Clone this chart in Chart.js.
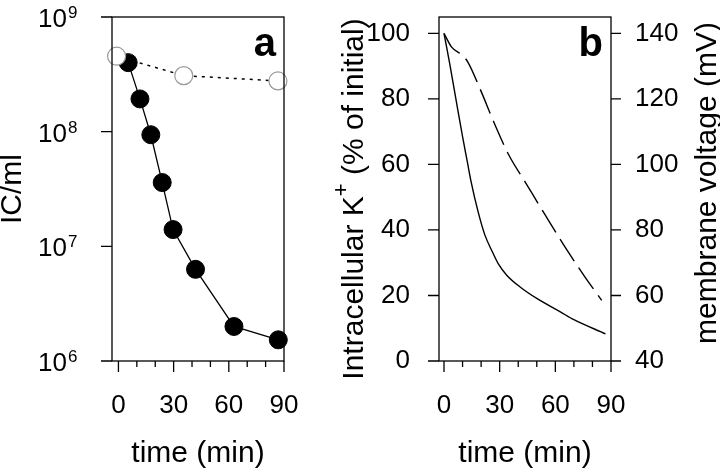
<!DOCTYPE html>
<html>
<head>
<meta charset="utf-8">
<script src="https://cdn.jsdelivr.net/npm/chart.js@4.4.0/dist/chart.umd.min.js"></script>
<style>
  html, body { margin: 0; padding: 0; background: #fff; }
  #wrap { position: relative; width: 720px; height: 473px; overflow: hidden; }
  #chartA { position: absolute; left: 0; top: 0; }
  #chartB { position: absolute; left: 300px; top: 0; }
</style>
</head>
<body>
<div id="wrap">
  <canvas id="chartA" width="300" height="473"></canvas>
  <canvas id="chartB" width="420" height="473"></canvas>
</div>
<script>
// panel a - IC/ml over time
const timeTreated = [5.3, 11.7, 17.6, 23.8, 29.7, 41.9, 62.8, 86.9];
const icTreated = [4.0e8, 1.93e8, 9.4e7, 3.6e7, 1.4e7, 6.3e6, 2.0e6, 1.53e6];
const timeControl = [-1, 35.5, 86.7];
const icControl = [4.55e8, 3.08e8, 2.77e8];
const logTicks = [1e6, 1e7, 1e8, 1e9];
const logExponents = ["6", "7", "8", "9"];

// panel b - K+ and membrane voltage
const timeK = [0, 3, 6.7, 10, 12.5, 14.5, 18.4, 22, 26.5, 29.2, 33.8, 41, 50, 62.7, 70, 87];
const kPercent = [100, 91, 79, 68.5, 61, 55, 45.5, 38.5, 32.8, 29.7, 26.2, 22.6, 19.1, 15, 12.6, 8.3];
const timeV = [0, 4, 10.3, 13, 20, 27, 35, 44, 54.6, 65, 76, 85];
const voltage = [140, 135.9, 133.1, 131.1, 122.3, 112.7, 102.8, 94.4, 84.5, 75, 65.6, 58.5];
const timeTicks = [0, 30, 60, 90];

const FONT = "'Liberation Sans', Arial, Helvetica, sans-serif";
Chart.defaults.font.family = FONT;
Chart.defaults.color = "#000";

function pts(xs, ys) {
  return xs.map((x, i) => ({x: x, y: ys[i]}));
}

// fixed axis sizes, and no extra label padding round the chart area
function fixSize(w, h) {
  return s => {
    if (w != null) s.width = w;
    if (h != null) s.height = h;
    s.paddingTop = s.paddingBottom = s.paddingLeft = s.paddingRight = 0;
  };
}

// rotated text made of pieces: [text, size, raise]
function drawRotated(ctx, parts, x, y) {
  ctx.save();
  ctx.translate(x, y);
  ctx.rotate(-Math.PI / 2);
  ctx.textAlign = "left";
  ctx.textBaseline = "alphabetic";
  let total = 0;
  parts.forEach(p => { ctx.font = p[1] + "px " + FONT; total += ctx.measureText(p[0]).width; });
  let cx = -total / 2;
  parts.forEach(p => {
    ctx.font = p[1] + "px " + FONT;
    ctx.fillText(p[0], cx, 10.5 - p[2]);
    cx += ctx.measureText(p[0]).width;
  });
  ctx.restore();
}

/* frame, tick marks, panel letter and extra titles */
function framePlugin(letter, extra) {
  return {
    id: "frame_" + letter,
    afterDraw(chart) {
      const ctx = chart.ctx;
      const a = chart.chartArea;
      ctx.save();
      ctx.strokeStyle = "#000";
      ctx.lineWidth = 1.3;
      ctx.strokeRect(a.left, a.top, a.right - a.left, a.bottom - a.top);

      ctx.beginPath();
      // bottom ticks, longer at the labelled ones
      const xs = chart.scales.x;
      xs.ticks.forEach(t => {
        const px = xs.getPixelForValue(t.value);
        const len = timeTicks.includes(t.value) ? 11 : 6;
        ctx.moveTo(px, a.bottom);
        ctx.lineTo(px, a.bottom + len);
      });
      // left ticks
      const ys = chart.scales.y;
      ys.ticks.forEach(t => {
        const py = ys.getPixelForValue(t.value);
        ctx.moveTo(a.left, py);
        ctx.lineTo(a.left - 11, py);
      });
      // right ticks
      if (chart.scales.y2) {
        const y2 = chart.scales.y2;
        y2.ticks.forEach(t => {
          const py = y2.getPixelForValue(t.value);
          ctx.moveTo(a.right, py);
          ctx.lineTo(a.right + 10, py);
        });
      }
      ctx.stroke();

      ctx.fillStyle = "#000";
      ctx.font = "bold 40px " + FONT;
      ctx.textAlign = "right";
      ctx.textBaseline = "alphabetic";
      ctx.fillText(letter, a.right - 8, a.top + 39);

      if (extra) extra(chart, ctx, a);
      ctx.restore();
    }
  };
}

const xAxisBase = (min) => ({
  type: "linear",
  min: min,
  max: 90,
  grid: {display: false, drawTicks: false},
  border: {display: false},
  ticks: {
    stepSize: 10,
    includeBounds: false,
    autoSkip: false,
    maxRotation: 0,
    padding: 29,
    font: {size: 26},
    callback: v => timeTicks.includes(v) ? String(v) : ""
  },
  title: {
    display: true,
    text: "time (min)",
    font: {size: 30, lineHeight: 0.8},
    padding: {top: 0, bottom: 7}
  },
  afterFit: fixSize(null, 112)
});

// powers of ten on the log axis: "10" with a raised exponent
function drawPowerLabels(chart, ctx, a) {
  const ys = chart.scales.y;
  ctx.fillStyle = "#000";
  ctx.textBaseline = "alphabetic";
  ys.ticks.forEach((t, i) => {
    const py = ys.getPixelForValue(t.value);
    ctx.font = "26px " + FONT;
    ctx.textAlign = "right";
    ctx.fillText("10", a.left - 45, py + 10);
    ctx.font = "17px " + FONT;
    ctx.textAlign = "left";
    ctx.fillText(logExponents[i], a.left - 44, py + 1);
  });
}

// panel a
new Chart(document.getElementById("chartA"), {
  type: "line",
  data: {
    datasets: [
      {
        label: "control",
        data: pts(timeControl, icControl),
        order: 0,
        borderColor: "#000",
        borderWidth: 1.5,
        borderDash: [3, 5],
        pointRadius: 9,
        pointBackgroundColor: "#fff",
        pointBorderColor: "#999",
        pointBorderWidth: 1.2,
        tension: 0,
        clip: false
      },
      {
        label: "treated",
        data: pts(timeTreated, icTreated),
        order: 1,
        borderColor: "#000",
        borderWidth: 1.3,
        pointRadius: 9,
        pointBackgroundColor: "#000",
        pointBorderColor: "#000",
        pointBorderWidth: 1,
        tension: 0,
        clip: false
      }
    ]
  },
  options: {
    responsive: false,
    animation: false,
    devicePixelRatio: 1,
    layout: {padding: {top: 17, right: 16, left: 0, bottom: 0}},
    plugins: {legend: {display: false}, tooltip: {enabled: false}},
    scales: {
      x: xAxisBase(-3.5),
      y: {
        type: "logarithmic",
        min: 1e6,
        max: 1e9,
        grid: {display: false, drawTicks: false},
        border: {display: false},
        afterBuildTicks: s => { s.ticks = logTicks.map(v => ({value: v})); },
        ticks: {padding: 33, font: {size: 26}, callback: () => ""},
        title: {
          display: true,
          text: "IC/ml",
          font: {size: 30, lineHeight: 0.8},
          padding: {top: 1, bottom: 0}
        },
        afterFit: fixSize(112, null)
      }
    }
  },
  plugins: [framePlugin("a", drawPowerLabels)]
});

// panel b
new Chart(document.getElementById("chartB"), {
  type: "line",
  data: {
    datasets: [
      {
        label: "K+",
        data: pts(timeK, kPercent),
        yAxisID: "y",
        borderColor: "#000",
        borderWidth: 1.4,
        pointRadius: 0,
        cubicInterpolationMode: "monotone"
      },
      {
        label: "voltage",
        data: pts(timeV, voltage),
        yAxisID: "y2",
        borderColor: "#000",
        borderWidth: 1.4,
        borderDash: [26, 8],
        pointRadius: 0,
        cubicInterpolationMode: "monotone"
      }
    ]
  },
  options: {
    responsive: false,
    animation: false,
    devicePixelRatio: 1,
    layout: {padding: {top: 17, right: 0, left: 0, bottom: 0}},
    plugins: {legend: {display: false}, tooltip: {enabled: false}},
    scales: {
      x: xAxisBase(-2.7),
      y: {
        type: "linear",
        position: "left",
        min: 0,
        max: 105,
        grid: {display: false, drawTicks: false},
        border: {display: false},
        ticks: {stepSize: 20, includeBounds: false, padding: 29, font: {size: 26}},
        afterFit: fixSize(139, null)
      },
      y2: {
        type: "linear",
        position: "right",
        min: 40,
        max: 145,
        grid: {display: false, drawTicks: false},
        border: {display: false},
        ticks: {stepSize: 20, includeBounds: false, padding: 24, font: {size: 26}},
        afterFit: fixSize(109, null)
      }
    }
  },
  plugins: [framePlugin("b", (chart, ctx) => {
    ctx.fillStyle = "#000";
    drawRotated(ctx, [["Intracellular K", 30, 0], ["+", 22, 15], [" (% of initial)", 30, 0]], 52, 199);
    drawRotated(ctx, [["membrane voltage (mV)", 30, 0]], 405, 183);
  })]
});
</script>
</body>
</html>
